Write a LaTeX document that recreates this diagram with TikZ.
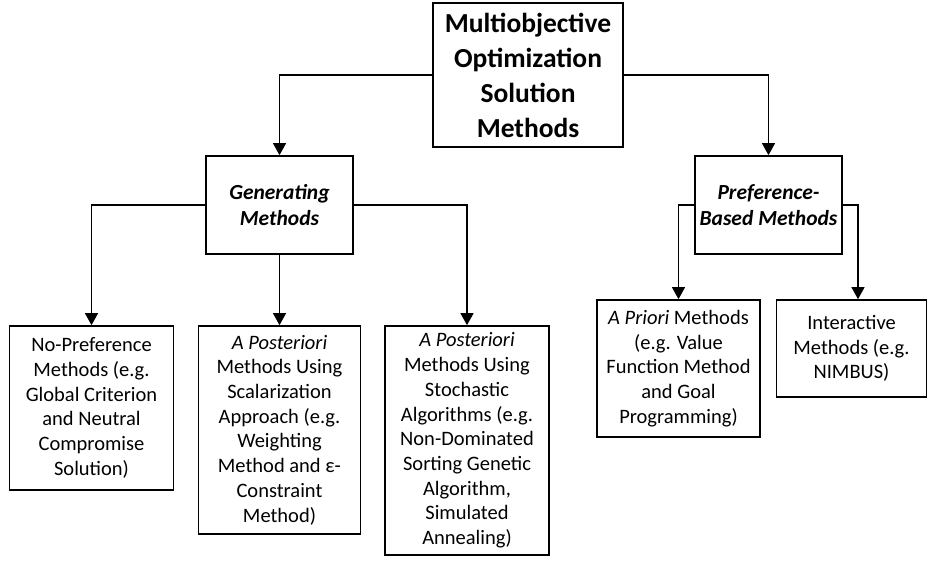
\documentclass[tikz,border=0pt]{standalone}
\usepackage{fontspec}
\setmainfont{Carlito}
\usetikzlibrary{arrows.meta}

\begin{document}
\begin{tikzpicture}[x=1pt,y=-1pt,
    box/.style={draw,line width=1.7pt,align=center,inner sep=0pt,
      font=\fontsize{20.5}{24.7}\selectfont},
    toptitle/.style={box,font=\fontsize{27.5}{35}\selectfont\bfseries},
    midtitle/.style={box,font=\fontsize{21.5}{26}\selectfont\bfseries\itshape}]
      \useasboundingbox (0,0) rectangle (928,565);
      \draw
        (528,75) node[toptitle,minimum width=190pt,minimum height=144pt] (root)
          {Multiobjective\\Optimization\\Solution\\Methods}
        (279.5,205) node[midtitle,minimum width=147pt,minimum height=98pt] (gen)
          {Generating\\Methods}
        (768.5,205) node[midtitle,minimum width=147pt,minimum height=98pt] (pref)
          {Preference-\\Based Methods}
        (91.5,408) node[box,minimum width=164pt,minimum height=164pt] (nopref)
          {No-Preference\\Methods (e.g.\\Global Criterion\\and Neutral\\Compromise\\Solution)}
        (279.5,430) node[box,minimum width=162pt,minimum height=208pt] (scal)
          {\textit{A Posteriori}\\Methods Using\\Scalarization\\Approach (e.g.\\Weighting\\Method and ε-\\Constraint\\Method)}
        (467,440.5) node[box,minimum width=164pt,minimum height=229pt] (stoch)
          {\textit{A Posteriori}\\Methods Using\\Stochastic\\Algorithms (e.g.\\Non-Dominated\\Sorting Genetic\\Algorithm,\\Simulated\\Annealing)}
        (678.5,368.5) node[box,minimum width=163pt,minimum height=137pt] (priori)
          {\textit{A Priori} Methods\\(e.g. Value\\Function Method\\and Goal\\Programming)}
        (851.5,348.5) node[box,minimum width=150pt,minimum height=97pt] (inter)
          {Interactive\\Methods (e.g.\\NIMBUS)};
      \begin{scope}[line width=1.3pt,-{Triangle[width=13pt,length=12pt]}]
        \draw (root.west) -| (gen.north);
        \draw (root.east) -| (pref.north);
        \draw (gen.west) -| (nopref.north);
        \draw (gen.south) -- (scal.north);
        \draw (gen.east) -| (stoch.north);
        \draw (pref.west) -| (priori.north);
        \draw (pref.east) -| ([xshift=6.5pt]inter.north);
      \end{scope}
    \end{tikzpicture}
\end{document}
